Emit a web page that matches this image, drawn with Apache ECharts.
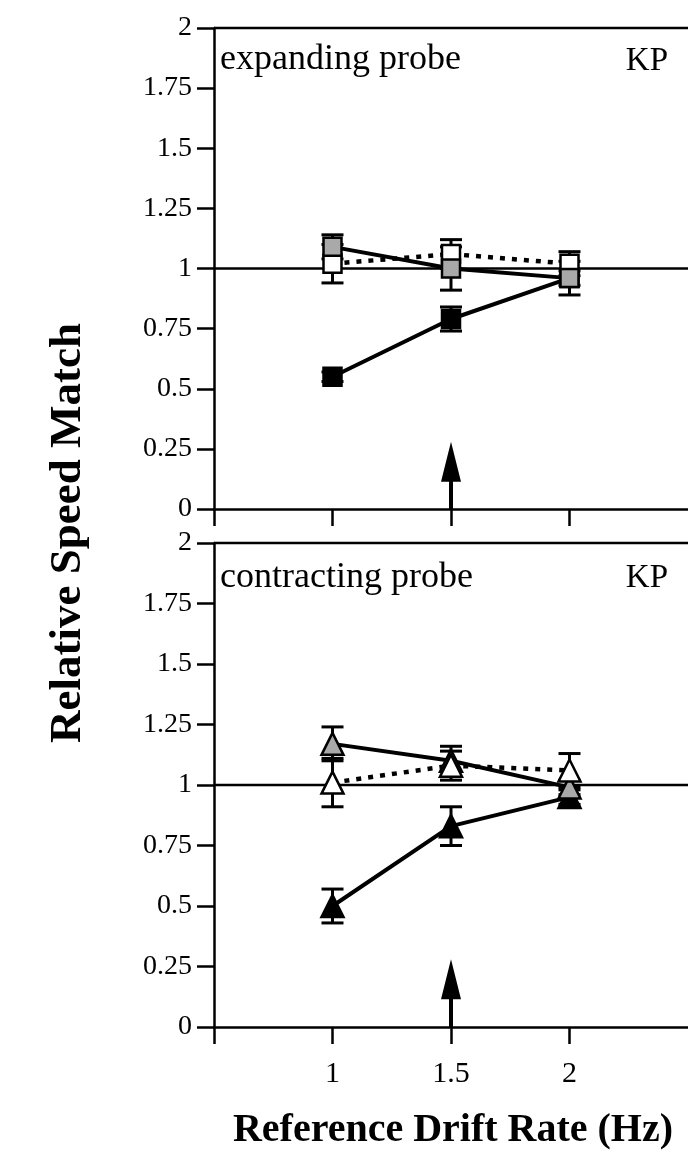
<!DOCTYPE html>
<html>
<head>
<meta charset="utf-8">
<script src="https://cdn.jsdelivr.net/npm/echarts@6.0.0/dist/echarts.min.js"></script>
<style>
  html, body { margin: 0; padding: 0; background: #fff; }
  #chart { width: 688px; height: 1168px; }
</style>
</head>
<body>
<div id="chart"></div>
<script>
// Reference drift rates (Hz) on the shared x axis
const driftRates = [1, 1.5, 2];

// Expanding probe (squares): relative speed match and error half-widths
const expFilled    = [0.55, 0.79, 0.96];
const expFilledErr = [0.02, 0.05, 0.07];
const expGray      = [1.09, 1.00, 0.96];
const expGrayErr   = [0.05, 0.09, 0.03];
const expOpen      = [1.02, 1.06, 1.02];
const expOpenErr   = [0.08, 0.06, 0.05];

// Contracting probe (triangles)
const conFilled    = [0.50, 0.83, 0.95];
const conFilledErr = [0.07, 0.08, 0.03];
const conGray      = [1.17, 1.10, 0.99];
const conGrayErr   = [0.07, 0.06, 0.03];
const conOpen      = [1.01, 1.08, 1.06];
const conOpenErr   = [0.10, 0.06, 0.07];

// Arrow marking the adapting drift rate, and the veridical match level
const adaptRate = 1.5;
const arrowTip = 0.28;
const unityLevel = 1;
const yTickValues = [0, 0.25, 0.5, 0.75, 1, 1.25, 1.5, 1.75, 2];
const xTickValues = [0.5, 1, 1.5, 2];
const xTickLabels = ['1', '1.5', '2'];
const panelLabels = ['expanding probe', 'contracting probe'];
const observer = 'KP';
const yTitle = 'Relative Speed Match';
const xTitle = 'Reference Drift Rate (Hz)';

const SERIF = '"Liberation Serif", "Times New Roman", serif';
const GRAY = '#a9a9a9';

const chart = echarts.init(document.getElementById('chart'), null, { renderer: 'canvas' });

const grids = [
  { left: 214, width: 478, top: 28, height: 481 },
  { left: 214, width: 478, top: 543, height: 484 }
];

function xAxisFor(i, showLabels) {
  return {
    type: 'value', gridIndex: i, min: 0.5, max: 2.5, interval: 0.5,
    axisLine: { onZero: false, lineStyle: { color: '#000', width: 2.5 } },
    axisTick: { show: true, inside: false, length: 17, customValues: xTickValues, lineStyle: { color: '#000', width: 2.5 } },
    splitLine: { show: false },
    axisLabel: {
      show: showLabels, margin: 32, color: '#000', fontFamily: SERIF, fontSize: 30,
      customValues: driftRates,
      formatter: v => {
        const idx = driftRates.indexOf(v);
        return idx >= 0 ? xTickLabels[idx] : '';
      }
    }
  };
}

function yAxisFor(i) {
  return {
    type: 'value', gridIndex: i, min: 0, max: 2, interval: 0.25,
    axisLine: { show: true, lineStyle: { color: '#000', width: 2.5 } },
    axisTick: { show: true, inside: false, length: 17, lineStyle: { color: '#000', width: 2.5 } },
    splitLine: { show: false },
    axisLabel: {
      margin: 22, color: '#000', fontFamily: SERIF, fontSize: 28,
      formatter: v => (yTickValues.indexOf(v) >= 0 ? String(v) : '')
    }
  };
}

function errorBars(gi, values, errs, z) {
  return {
    type: 'custom', xAxisIndex: gi, yAxisIndex: gi, z: z, silent: true,
    data: driftRates.map((x, k) => [x, values[k], errs[k]]),
    encode: { x: 0, y: 1 },
    renderItem: (params, api) => {
      const x = api.value(0), y = api.value(1), e = api.value(2);
      const hi = api.coord([x, y + e]);
      const lo = api.coord([x, y - e]);
      const hw = 11;
      const st = { stroke: '#000', lineWidth: 3 };
      return {
        type: 'group',
        children: [
          { type: 'line', shape: { x1: hi[0], y1: hi[1], x2: lo[0], y2: lo[1] }, style: st },
          { type: 'line', shape: { x1: hi[0] - hw, y1: hi[1], x2: hi[0] + hw, y2: hi[1] }, style: st },
          { type: 'line', shape: { x1: lo[0] - hw, y1: lo[1], x2: lo[0] + hw, y2: lo[1] }, style: st }
        ]
      };
    }
  };
}

function markerLine(gi, values, symbol, size, fill, dotted, z) {
  return {
    type: 'line', xAxisIndex: gi, yAxisIndex: gi, z: z, silent: true,
    data: driftRates.map((x, k) => [x, values[k]]),
    symbol: symbol, symbolSize: size, showSymbol: true,
    lineStyle: { color: '#000', width: dotted ? 4.5 : 4, type: dotted ? [5, 7] : 'solid' },
    itemStyle: { color: fill, borderColor: '#000', borderWidth: 2.5 },
    animation: false
  };
}

function frameLines(gi) {
  // unity line and the top edge of the panel
  return {
    type: 'custom', xAxisIndex: gi, yAxisIndex: gi, z: 1, silent: true,
    data: [[0.5, unityLevel], [0.5, 2]],
    encode: { x: 0, y: 1 },
    renderItem: (params, api) => {
      const y = api.value(1);
      const a = api.coord([0.5, y]);
      const b = api.coord([2.5, y]);
      return { type: 'line', shape: { x1: a[0], y1: a[1], x2: b[0], y2: b[1] }, style: { stroke: '#000', lineWidth: 2.5 } };
    }
  };
}

function arrow(gi) {
  return {
    type: 'custom', xAxisIndex: gi, yAxisIndex: gi, z: 2, silent: true,
    data: [[adaptRate, 0, arrowTip]],
    encode: { x: 0, y: 1 },
    renderItem: (params, api) => {
      const x = api.value(0);
      const base = api.coord([x, api.value(1)]);
      const tip = api.coord([x, api.value(2)]);
      const headLen = 40, headW = 10;
      return {
        type: 'group',
        children: [
          { type: 'line', shape: { x1: base[0], y1: base[1], x2: tip[0], y2: tip[1] + headLen - 2 }, style: { stroke: '#000', lineWidth: 4 } },
          { type: 'polygon', shape: { points: [[tip[0], tip[1]], [tip[0] - headW, tip[1] + headLen], [tip[0] + headW, tip[1] + headLen]] }, style: { fill: '#000' } }
        ]
      };
    }
  };
}

const SQ = 18, TRI = [22, 22];

const option = {
  animation: false,
  backgroundColor: '#fff',
  grid: grids,
  xAxis: [xAxisFor(0, false), xAxisFor(1, true)],
  yAxis: [yAxisFor(0), yAxisFor(1)],
  series: [
    frameLines(0), frameLines(1),
    arrow(0), arrow(1),
    // expanding probe
    errorBars(0, expFilled, expFilledErr, 3),
    errorBars(0, expOpen, expOpenErr, 3),
    errorBars(0, expGray, expGrayErr, 3),
    markerLine(0, expFilled, 'rect', SQ, '#000', false, 4),
    markerLine(0, expOpen, 'rect', SQ, '#fff', true, 5),
    markerLine(0, expGray, 'rect', SQ, GRAY, false, 6),
    // contracting probe
    errorBars(1, conFilled, conFilledErr, 3),
    errorBars(1, conOpen, conOpenErr, 3),
    errorBars(1, conGray, conGrayErr, 3),
    markerLine(1, conFilled, 'triangle', TRI, '#000', false, 4),
    markerLine(1, conGray, 'triangle', TRI, GRAY, false, 5),
    markerLine(1, conOpen, 'triangle', TRI, '#fff', true, 6)
  ],
  graphic: [
    { type: 'text', left: 220, top: 42, style: { text: panelLabels[0], font: '36px ' + SERIF, fill: '#000' } },
    { type: 'text', right: 20, top: 45, style: { text: observer, font: '33px ' + SERIF, fill: '#000' } },
    { type: 'text', left: 220, top: 560, style: { text: panelLabels[1], font: '36px ' + SERIF, fill: '#000' } },
    { type: 'text', right: 20, top: 562, style: { text: observer, font: '33px ' + SERIF, fill: '#000' } },
    {
      type: 'text', x: 68, y: 533, rotation: Math.PI / 2,
      style: { text: yTitle, font: 'bold 45px ' + SERIF, fill: '#000', textAlign: 'center', textVerticalAlign: 'middle' }
    },
    {
      type: 'text', x: 453, y: 1131,
      style: { text: xTitle, font: 'bold 40px ' + SERIF, fill: '#000', textAlign: 'center', textVerticalAlign: 'middle' }
    }
  ]
};

chart.setOption(option);
</script>
</body>
</html>
